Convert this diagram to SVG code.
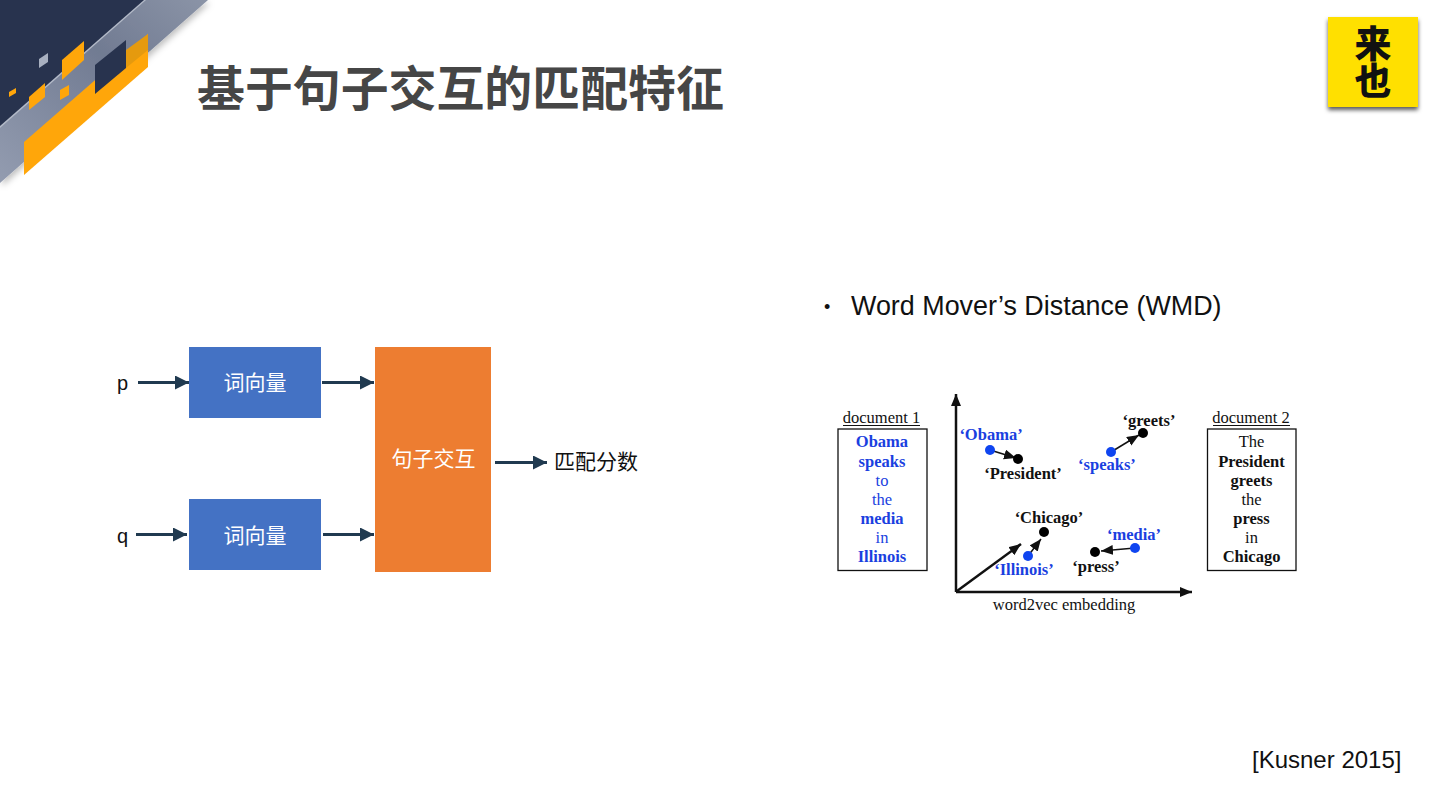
<svg xmlns="http://www.w3.org/2000/svg" width="1440" height="810" viewBox="0 0 1440 810">
<style>
.s{font-family:"Liberation Sans","Noto Sans CJK SC",sans-serif}
.c{font-family:"Noto Sans CJK SC","Liberation Sans",sans-serif}
.t{font-family:"Liberation Serif","Noto Sans CJK SC",serif;font-size:16.500px;text-anchor:middle}
.b{font-weight:bold}
.bl{fill:#1a3fe0}
.k{fill:#111}
.w{fill:#fff;font-size:21px;text-anchor:middle}
.lk{stroke:#203a50;stroke-width:3;fill:none;marker-end:url(#a)}
.v{stroke:#111;fill:none;marker-end:url(#v)}
</style>
<defs>
<marker id="a" markerUnits="userSpaceOnUse" markerWidth="16" markerHeight="16" refX="14" refY="7" orient="auto"><path d="M0 0L14 7L0 14Z" fill="#203a50"/></marker>
<marker id="v" markerUnits="userSpaceOnUse" markerWidth="14" markerHeight="12" refX="12" refY="5" orient="auto"><path d="M0 0L12 5L0 10Z" fill="#111"/></marker>
<filter id="sh" x="-20%" y="-20%" width="140%" height="140%"><feDropShadow dx="0" dy="3" stdDeviation="2" flood-color="#000" flood-opacity=".65"/></filter>
<filter id="bs" x="-20%" y="-20%" width="140%" height="140%"><feDropShadow dx="2" dy="3" stdDeviation="3" flood-color="#000" flood-opacity=".25"/></filter>
<linearGradient id="g" x1="0" y1="1" x2="1" y2="0"><stop offset="0" stop-color="#939cb0"/><stop offset=".6" stop-color="#717b92"/><stop offset="1" stop-color="#8b94a7"/></linearGradient>
</defs>
<rect width="1440" height="810" fill="#fff"/>
<g id="banner">
<path d="M0 0H208L0 183Z" fill="url(#g)" filter="url(#bs)"/>
<path d="M0 0H146L0 128Z" fill="#b3bac8"/>
<path d="M0 0H144L0 126Z" fill="#28334e"/>
<path d="M24 142L148 34V67L24 175Z" fill="#ffa60a"/>
<path d="M126 50L148 34V50L126 68Z" fill="#e59a0e"/>
<path d="M95 65L126 40V68L95 94Z" fill="#28334e"/>
<path d="M62 60L84 41V60L62 80Z" fill="#ffa60a"/>
<path d="M29 97L45 83V97L29 110Z" fill="#ffa60a"/>
<path d="M60 90L69 85V95L60 100Z" fill="#ffa60a"/>
<path d="M9 92L16 88V93L9 97Z" fill="#ffa60a"/>
<path d="M39 59L48 53V62L39 68Z" fill="#a8b0c0"/>
</g>
<text id="title" class="c" x="197" y="106" font-size="47.900" font-weight="700" fill="#464646">基于句子交互的匹配特征</text>
<g id="logo">
<rect x="1328" y="17" width="90" height="90" fill="#ffe000" filter="url(#sh)"/>
<text class="c" x="1373" y="25" font-size="37" font-weight="900" writing-mode="vertical-rl" fill="#111">来也</text>
</g>
<g id="flow-nodes">
<g id="node-p"><text class="s" x="117" y="390" font-size="20" fill="#111">p</text></g>
<g id="node-q"><text class="s" x="117" y="543" font-size="20" fill="#111">q</text></g>
<g id="node-wv1"><rect x="189" y="347" width="132" height="71" fill="#4472c4"/><text class="c w" x="255" y="390">词向量</text></g>
<g id="node-wv2"><rect x="189" y="499" width="132" height="71" fill="#4472c4"/><text class="c w" x="255" y="543">词向量</text></g>
<g id="node-inter"><rect x="375" y="347" width="116" height="225" fill="#ed7d31"/><text class="c w" x="433.500" y="466">句子交互</text></g>
<g id="node-score"><text class="c" x="554" y="469" font-size="21" fill="#111">匹配分数</text></g>
</g>
<g id="connectors">
<path class="lk" d="M138 382.500H189"/>
<path class="lk" d="M136 534.500H187"/>
<path class="lk" d="M322 382.500H374"/>
<path class="lk" d="M323 534.500H374"/>
<path class="lk" d="M495 462.500H547"/>
</g>
<g id="wmd-heading">
<text class="s" x="824" y="313" font-size="18" fill="#111">•</text>
<text class="s" x="851" y="315" font-size="26.900" fill="#111">Word Mover’s Distance (WMD)</text>
</g>
<g id="wmd">
<g id="doc1">
<text class="t k" x="881.500" y="423">document 1</text>
<path d="M843 425.500H920" stroke="#111" fill="none"/>
<rect x="838" y="429" width="89" height="141.500" fill="#fff" stroke="#111" stroke-width="1.300"/>
<text class="t b bl" x="882" y="447">Obama</text>
<text class="t b bl" x="882" y="467">speaks</text>
<text class="t bl" x="882" y="486">to</text>
<text class="t bl" x="882" y="505">the</text>
<text class="t b bl" x="882" y="524">media</text>
<text class="t bl" x="882" y="543">in</text>
<text class="t b bl" x="882" y="562">Illinois</text>
</g>
<g id="doc2">
<text class="t k" x="1251" y="423">document 2</text>
<path d="M1213 425.500H1290" stroke="#111" fill="none"/>
<rect x="1207.500" y="429" width="88.500" height="141.500" fill="#fff" stroke="#111" stroke-width="1.300"/>
<text class="t k" x="1251.500" y="447">The</text>
<text class="t b k" x="1251.500" y="467">President</text>
<text class="t b k" x="1251.500" y="486">greets</text>
<text class="t k" x="1251.500" y="505">the</text>
<text class="t b k" x="1251.500" y="524">press</text>
<text class="t k" x="1251.500" y="543">in</text>
<text class="t b k" x="1251.500" y="562">Chicago</text>
</g>
<g id="axes">
<path d="M956 592V394" stroke="#111" stroke-width="2.500" fill="none" marker-end="url(#v)"/>
<path d="M956 592H1192" stroke="#111" stroke-width="2.500" fill="none" marker-end="url(#v)"/>
<path class="v" stroke-width="2.500" d="M957 591L1021 544"/>
<text class="t k" x="1064" y="610">word2vec embedding</text>
</g>
<g id="pts">
<path class="v" stroke-width="1.500" d="M990 450L1016 458"/>
<path class="v" stroke-width="1.500" d="M1111 452L1139 435"/>
<path class="v" stroke-width="1.500" d="M1028 556L1041 539"/>
<path class="v" stroke-width="1.500" d="M1135 548L1101 551"/>
<circle cx="990" cy="450" r="5" fill="#0f45f0"/>
<circle cx="1018" cy="459" r="5" fill="#000"/>
<circle cx="1111" cy="452" r="5" fill="#0f45f0"/>
<circle cx="1143" cy="433" r="5" fill="#000"/>
<circle cx="1028" cy="556" r="5" fill="#0f45f0"/>
<circle cx="1044" cy="532" r="5" fill="#000"/>
<circle cx="1135" cy="548" r="5" fill="#0f45f0"/>
<circle cx="1095" cy="552" r="5" fill="#000"/>
<text class="t b bl" x="991" y="440">‘Obama’</text>
<text class="t b k" x="1023" y="479">‘President’</text>
<text class="t b bl" x="1107" y="470">‘speaks’</text>
<text class="t b k" x="1149" y="426">‘greets’</text>
<text class="t b k" x="1049" y="523">‘Chicago’</text>
<text class="t b bl" x="1024" y="575">‘Illinois’</text>
<text class="t b bl" x="1134" y="540">‘media’</text>
<text class="t b k" x="1096" y="572">‘press’</text>
</g>
</g>
<text id="cite" class="s" x="1252" y="768" font-size="24" fill="#111">[Kusner 2015]</text>
</svg>
